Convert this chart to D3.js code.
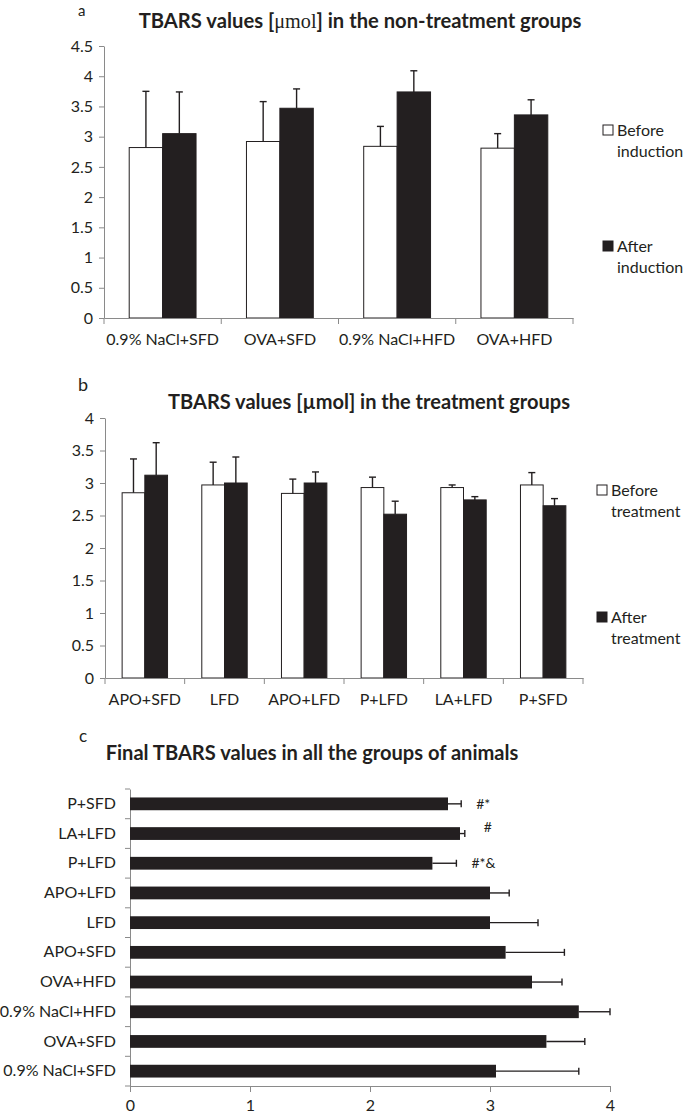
<!DOCTYPE html>
<html><head><meta charset="utf-8">
<script src="https://cdn.jsdelivr.net/npm/d3@7"></script>
<style>
body{margin:0;background:#fff}
svg{display:block}
text{font-family:Lato,"Open Sans",sans-serif;fill:#231f20}
</style>
</head><body>
<svg id="chart" width="685" height="1115"></svg>
<script>
// ---------- Panel a data ----------
const catA = ["0.9% NaCl+SFD", "OVA+SFD", "0.9% NaCl+HFD", "OVA+HFD"];
const beforeA = [2.82, 2.92, 2.84, 2.81];
const beforeSdA = [0.93, 0.66, 0.33, 0.24];
const afterA = [3.05, 3.47, 3.74, 3.36];
const afterSdA = [0.69, 0.32, 0.35, 0.25];
const ticksA = [0, 0.5, 1, 1.5, 2, 2.5, 3, 3.5, 4, 4.5];
const legendA = [["Before", "induction"], ["After", "induction"]];

// ---------- Panel b data ----------
const catB = ["APO+SFD", "LFD", "APO+LFD", "P+LFD", "LA+LFD", "P+SFD"];
const beforeB = [2.85, 2.97, 2.84, 2.93, 2.93, 2.97];
const beforeSdB = [0.52, 0.35, 0.22, 0.16, 0.04, 0.19];
const afterB = [3.12, 3.00, 3.00, 2.52, 2.74, 2.65];
const afterSdB = [0.50, 0.40, 0.17, 0.20, 0.05, 0.11];
const ticksB = [0, 0.5, 1, 1.5, 2, 2.5, 3, 3.5, 4];
const legendB = [["Before", "treatment"], ["After", "treatment"]];

// ---------- Panel c data ----------
const catC = ["P+SFD", "LA+LFD", "P+LFD", "APO+LFD", "LFD", "APO+SFD", "OVA+HFD", "0.9% NaCl+HFD", "OVA+SFD", "0.9% NaCl+SFD"];
const finalC = [2.65, 2.75, 2.52, 3.00, 3.00, 3.13, 3.35, 3.74, 3.47, 3.05];
const sdC = [0.11, 0.04, 0.20, 0.16, 0.40, 0.49, 0.25, 0.35, 0.32, 0.69];
const annotC = ["#*", "#", "#*&", "", "", "", "", "", "", ""];
const ticksC = [0, 1, 2, 3, 4];

const titles = {
  a: ["TBARS values [", "μmol", "] in the non-treatment groups"],
  b: "TBARS values [µmol] in the treatment groups",
  c: "Final TBARS values in all the groups of animals"
};

// ---------- styles ----------
const INK = "#231f20", AXIS = "#8a8a8a", FS = 16;
const svg = d3.select("#chart");

function fitText(sel, width) {
  const fs = parseFloat(sel.attr("font-size"));
  const w = sel.node().getComputedTextLength();
  sel.attr("font-size", (fs * width / w).toFixed(2));
}

function groupedChart(cfg) {
  const g = svg.append("g");
  const x = d3.scaleBand().domain(cfg.cats).range([cfg.left, cfg.right]).paddingInner(0).paddingOuter(0);
  const y = d3.scaleLinear().domain([0, cfg.ticks[cfg.ticks.length - 1]]).range([cfg.bottom, cfg.top]);
  const pair = x.bandwidth() * 0.57;
  const sub = d3.scaleBand().domain([0, 1]).range([(x.bandwidth() - pair) / 2, (x.bandwidth() + pair) / 2]);

  // y axis
  const ya = g.append("g").attr("transform", `translate(${cfg.left},0)`)
    .call(d3.axisLeft(y).tickValues(cfg.ticks).tickSize(5).tickSizeOuter(0).tickPadding(6)
      .tickFormat(d => String(d)));
  ya.select(".domain").attr("stroke", AXIS);
  ya.selectAll(".tick line").attr("stroke", AXIS);
  ya.selectAll(".tick text").attr("font-size", FS).attr("font-family", "Lato").attr("fill", INK);

  const series = [
    { v: cfg.before, sd: cfg.beforeSd, fill: "#fff" },
    { v: cfg.after, sd: cfg.afterSd, fill: INK }
  ];
  series.forEach((s, si) => {
    const bars = g.append("g");
    bars.selectAll("rect").data(cfg.cats).join("rect")
      .attr("x", (d) => x(d) + sub(si))
      .attr("width", sub.bandwidth())
      .attr("y", (d, i) => y(s.v[i]))
      .attr("height", (d, i) => y(0) - y(s.v[i]))
      .attr("fill", s.fill).attr("stroke", INK).attr("stroke-width", 1);
    const eb = g.append("g").attr("stroke", INK).attr("stroke-width", 1.4);
    eb.selectAll("line.v").data(cfg.cats).join("line").attr("class", "v")
      .attr("x1", d => x(d) + sub(si) + sub.bandwidth() / 2)
      .attr("x2", d => x(d) + sub(si) + sub.bandwidth() / 2)
      .attr("y1", (d, i) => y(s.v[i]))
      .attr("y2", (d, i) => y(s.v[i] + s.sd[i]));
    eb.selectAll("line.c").data(cfg.cats).join("line").attr("class", "c")
      .attr("x1", d => x(d) + sub(si) + sub.bandwidth() / 2 - 3.5)
      .attr("x2", d => x(d) + sub(si) + sub.bandwidth() / 2 + 3.5)
      .attr("y1", (d, i) => y(s.v[i] + s.sd[i]))
      .attr("y2", (d, i) => y(s.v[i] + s.sd[i]));
  });

  // x axis (category)
  const xa = g.append("g").attr("transform", `translate(0,${cfg.bottom})`)
    .call(d3.axisBottom(x).tickSize(0).tickSizeOuter(0).tickPadding(cfg.labelPad));
  xa.select(".domain").attr("stroke", AXIS);
  xa.selectAll(".tick text").attr("font-size", FS).attr("font-family", "Lato").attr("fill", INK);
  const bounds = cfg.cats.map(c => x(c)).concat([cfg.right]);
  g.append("g").selectAll("line").data(bounds).join("line")
    .attr("x1", d => d).attr("x2", d => d)
    .attr("y1", cfg.bottom).attr("y2", cfg.bottom + 6)
    .attr("stroke", AXIS);

  // legend
  const lg = g.append("g");
  cfg.legend.forEach((lines, i) => {
    const cy = cfg.legendY[i];
    lg.append("rect").attr("x", cfg.legendX).attr("y", cy - 5).attr("width", 10).attr("height", 10)
      .attr("fill", i === 0 ? "#fff" : INK).attr("stroke", INK).attr("stroke-width", 1);
    lines.forEach((t, j) => {
      lg.append("text").attr("x", cfg.legendX + 14).attr("y", cy + 5.5 + j * 21.5)
        .attr("font-size", 16).text(t);
    });
  });
  return g;
}

// ---------- Panel a ----------
svg.append("text").attr("x", 78).attr("y", 16).attr("font-size", 15).text("a");
const tA = svg.append("text").attr("x", 360).attr("y", 28).attr("text-anchor", "middle")
  .attr("font-size", 18).attr("font-weight", "bold");
tA.append("tspan").text(titles.a[0]);
tA.append("tspan").attr("font-family", "Liberation Serif").attr("font-weight", "normal").text(titles.a[1]);
tA.append("tspan").text(titles.a[2]);
fitText(tA, 443);

groupedChart({
  cats: catA, before: beforeA, beforeSd: beforeSdA, after: afterA, afterSd: afterSdA,
  ticks: ticksA, left: 104, right: 573, top: 46, bottom: 318, labelPad: 16,
  legend: legendA, legendX: 603, legendY: [130, 246]
});

// ---------- Panel b ----------
svg.append("text").attr("x", 78).attr("y", 391).attr("font-size", 18).text("b");
const tB = svg.append("text").attr("x", 369).attr("y", 409).attr("text-anchor", "middle")
  .attr("font-size", 18).attr("font-weight", "bold").text(titles.b);
fitText(tB, 402);

groupedChart({
  cats: catB, before: beforeB, beforeSd: beforeSdB, after: afterB, afterSd: afterSdB,
  ticks: ticksB, left: 105, right: 583, top: 418, bottom: 678, labelPad: 16,
  legend: legendB, legendX: 597, legendY: [490, 617]
});

// ---------- Panel c ----------
svg.append("text").attr("x", 79).attr("y", 742).attr("font-size", 17).text("c");
const tC = svg.append("text").attr("x", 312).attr("y", 760).attr("text-anchor", "middle")
  .attr("font-size", 18).attr("font-weight", "bold").text(titles.c);
fitText(tC, 413);

(function () {
  const g = svg.append("g");
  const left = 130, right4 = 610, top = 789, bottom = 1086;
  const x = d3.scaleLinear().domain([0, 4]).range([left, right4]);
  const y = d3.scaleBand().domain(catC).range([top, bottom]).paddingInner(0).paddingOuter(0);
  const bh = y.bandwidth() * 0.43;

  const xa = g.append("g").attr("transform", `translate(0,${bottom})`)
    .call(d3.axisBottom(x).tickValues(ticksC).tickSize(6).tickSizeOuter(0).tickPadding(8).tickFormat(d3.format("d")));
  xa.select(".domain").attr("stroke", AXIS);
  xa.selectAll(".tick line").attr("stroke", AXIS);
  xa.selectAll(".tick text").attr("font-size", FS).attr("font-family", "Lato").attr("fill", INK);

  const ya = g.append("g").attr("transform", `translate(${left},0)`)
    .call(d3.axisLeft(y).tickSize(0).tickSizeOuter(0).tickPadding(14));
  ya.select(".domain").attr("stroke", AXIS);
  ya.selectAll(".tick text").attr("font-size", FS).attr("font-family", "Lato").attr("fill", INK);
  const bounds = catC.map(c => y(c)).concat([bottom]);
  g.append("g").selectAll("line").data(bounds).join("line")
    .attr("x1", left - 5).attr("x2", left).attr("y1", d => d).attr("y2", d => d).attr("stroke", AXIS);

  g.append("g").selectAll("rect").data(catC).join("rect")
    .attr("x", x(0)).attr("y", d => y(d) + (y.bandwidth() - bh) / 2)
    .attr("width", (d, i) => x(finalC[i]) - x(0)).attr("height", bh)
    .attr("fill", INK);

  const errEnd = i => x(Math.min(finalC[i] + sdC[i], 4));
  const eb = g.append("g").attr("stroke", INK).attr("stroke-width", 1.4);
  eb.selectAll("line.h").data(catC).join("line").attr("class", "h")
    .attr("x1", (d, i) => x(finalC[i])).attr("x2", (d, i) => errEnd(i))
    .attr("y1", d => y(d) + y.bandwidth() / 2).attr("y2", d => y(d) + y.bandwidth() / 2);
  eb.selectAll("line.c").data(catC).join("line").attr("class", "c")
    .attr("x1", (d, i) => errEnd(i)).attr("x2", (d, i) => errEnd(i))
    .attr("y1", d => y(d) + y.bandwidth() / 2 - 3.5).attr("y2", d => y(d) + y.bandwidth() / 2 + 3.5);

  const lift = { "#": 7 };
  g.append("g").selectAll("text").data(catC).join("text")
    .attr("x", (d, i) => errEnd(i) + 15 + (annotC[i] === "#" ? 4 : 0))
    .attr("y", (d, i) => y(d) + y.bandwidth() / 2 + 5 - (lift[annotC[i]] || 0))
    .attr("font-size", 14).text((d, i) => annotC[i]);
})();
</script>
</body></html>
